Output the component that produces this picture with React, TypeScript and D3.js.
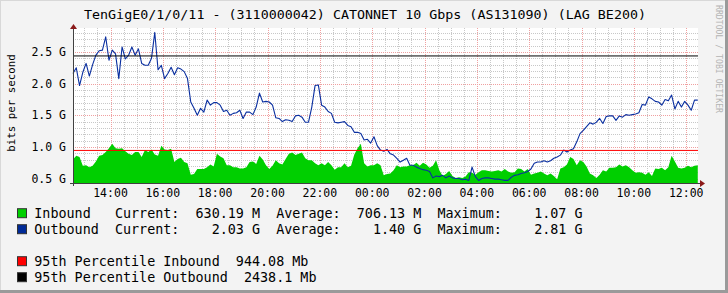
import React from "react";
import * as d3 from "d3";

const TITLE = "TenGigE0/1/0/11 - (3110000042) CATONNET 10 Gbps (AS131090) (LAG BE200)";
const Y_TITLE = "bits per second";
const WATERMARK = "RRDTOOL / TOBI OETIKER";

// samples every 7.5 minutes starting 12:34
const START = new Date(2024, 0, 1, 12, 34);
const END = new Date(2024, 0, 2, 12, 27);
const STEP_MIN = 7.5;

// Outbound (G bits/s)
const outbound = [
  2.16, 2.25, 1.97, 2.18, 2.32, 2.12, 2.30, 2.45, 2.52, 2.53,
  2.74, 2.37, 2.53, 2.47, 2.08, 2.58, 2.39, 2.45, 2.58, 2.45,
  2.55, 2.32, 2.29, 2.29, 2.40, 2.81, 2.22, 2.29, 2.08, 2.16,
  2.26, 2.14, 2.25, 2.23, 2.19, 2.08, 1.71, 1.61, 1.50, 1.61,
  1.55, 1.74, 1.66, 1.70, 1.70, 1.66, 1.56, 1.58, 1.50, 1.53,
  1.54, 1.58, 1.45, 1.55, 1.55, 1.51, 1.63, 1.85, 1.71, 1.72,
  1.71, 1.66, 1.46, 1.45, 1.40, 1.43, 1.42, 1.40, 1.49, 1.50,
  1.47, 1.39, 1.39, 1.63, 1.97, 1.98, 1.66, 1.63, 1.56, 1.53,
  1.39, 1.38, 1.39, 1.40, 1.34, 1.32, 1.23, 1.23, 1.21, 1.11,
  1.12, 1.06, 1.16, 1.02, 0.95, 0.93, 0.96, 0.89, 0.87, 0.82,
  0.76, 0.79, 0.82, 0.71, 0.71, 0.68, 0.66, 0.64, 0.63, 0.61,
  0.51, 0.54, 0.53, 0.55, 0.51, 0.54, 0.51, 0.50, 0.50, 0.48,
  0.49, 0.47, 0.68, 0.53, 0.47, 0.50, 0.51, 0.51, 0.50, 0.49,
  0.49, 0.48, 0.47, 0.47, 0.52, 0.55, 0.56, 0.58, 0.59, 0.61,
  0.65, 0.74, 0.76, 0.76, 0.78, 0.76, 0.78, 0.82, 0.84, 0.87,
  0.95, 0.92, 0.95, 0.97, 1.08, 1.21, 1.26, 1.32, 1.38, 1.36,
  1.39, 1.45, 1.37, 1.48, 1.49, 1.49, 1.42, 1.49, 1.47, 1.51,
  1.50, 1.51, 1.52, 1.54, 1.67, 1.66, 1.79, 1.76, 1.72, 1.71,
  1.66, 1.75, 1.73, 1.82, 1.60, 1.72, 1.63, 1.72, 1.66, 1.58,
  1.74, 1.74,
];

// Inbound (G bits/s)
const inbound = [
  0.80, 0.86, 0.84, 0.70, 0.71, 0.68, 0.70, 0.77, 0.86, 0.87,
  0.92, 0.98, 1.05, 0.98, 0.97, 0.98, 0.93, 0.89, 0.87, 0.92,
  0.92, 0.84, 0.95, 0.92, 0.96, 0.88, 0.86, 1.02, 0.96, 0.95,
  0.97, 0.76, 0.81, 0.83, 0.76, 0.74, 0.56, 0.57, 0.65, 0.65,
  0.65, 0.68, 0.72, 0.69, 0.89, 0.85, 0.82, 0.71, 0.71, 0.68,
  0.68, 0.66, 0.66, 0.68, 0.76, 0.77, 0.73, 0.86, 0.80, 0.71,
  0.65, 0.70, 0.79, 0.74, 0.72, 0.81, 0.89, 0.91, 0.87, 0.89,
  0.91, 0.82, 0.79, 0.79, 0.74, 0.71, 0.74, 0.71, 0.76, 0.71,
  0.64, 0.68, 0.68, 0.74, 0.68, 0.70, 0.88, 0.98, 1.05, 0.74,
  0.69, 0.71, 0.71, 0.74, 0.71, 0.55, 0.57, 0.58, 0.63, 0.71,
  0.68, 0.69, 0.69, 0.71, 0.71, 0.75, 0.70, 0.75, 0.72, 0.67,
  0.70, 0.79, 0.63, 0.54, 0.57, 0.62, 0.54, 0.51, 0.52, 0.51,
  0.53, 0.60, 0.59, 0.56, 0.60, 0.63, 0.63, 0.62, 0.61, 0.62,
  0.63, 0.61, 0.65, 0.61, 0.59, 0.60, 0.66, 0.65, 0.61, 0.65,
  0.56, 0.58, 0.59, 0.61, 0.58, 0.55, 0.58, 0.54, 0.49, 0.66,
  0.68, 0.72, 0.84, 0.81, 0.71, 0.79, 0.76, 0.69, 0.58, 0.55,
  0.51, 0.56, 0.63, 0.61, 0.67, 0.67, 0.68, 0.72, 0.69, 0.71,
  0.68, 0.63, 0.59, 0.60, 0.59, 0.56, 0.60, 0.54, 0.66, 0.65,
  0.67, 0.63, 0.68, 0.86, 0.77, 0.67, 0.66, 0.67, 0.70, 0.68,
  0.70, 0.71,
];

const pct95In = 0.94408;
const pct95Out = 2.4381;

const legendRows = [
  { color: "#00CF00", text: "Inbound   Current:  630.19 M  Average:  706.13 M  Maximum:    1.07 G" },
  { color: "#002A97", text: "Outbound  Current:    2.03 G  Average:    1.40 G  Maximum:    2.81 G" },
  { color: "#FF0000", text: "95th Percentile Inbound  944.08 Mb" },
  { color: "#000000", text: "95th Percentile Outbound  2438.1 Mb" },
];

const W = 728;
const H = 293;
const L = 73, R = 698, T = 28, B = 183;
const FONT = "'DejaVu Sans Mono', monospace";

export default function App() {
  const x = d3.scaleTime().domain([START, END]).range([L, R]);
  const y = d3.scaleLinear().domain([0.429, 2.88]).range([B, T]);
  const timeAt = (i: number) => new Date(START.getTime() + i * STEP_MIN * 60000);

  const inData = inbound.map((v, i) => ({ t: timeAt(i), v }));
  const outData = outbound.map((v, i) => ({ t: timeAt(i), v }));

  const area = d3.area<{ t: Date; v: number }>()
    .x((d) => x(d.t)).y0(B).y1((d) => y(d.v));
  const line = d3.line<{ t: Date; v: number }>()
    .x((d) => x(d.t)).y((d) => y(d.v));

  const minorY = d3.range(5, 29).map((k) => k / 10);
  const majorY = minorY.filter((v) => Math.abs(v * 2 - Math.round(v * 2)) < 1e-6);
  const minorX = d3.timeMinute.every(30)!.range(START, END);
  const majorX = d3.timeHour.every(2)!.range(START, END);
  const fmt = d3.timeFormat("%H:%M");

  return (
    <svg width={W} height={H} style={{ position: "absolute", left: 0, top: 0, display: "block" }}
      xmlns="http://www.w3.org/2000/svg">
      <rect x={0} y={0} width={W} height={H} fill="#F3F3F3" />
      {/* frame */}
      <line x1={0} y1={0.5} x2={W} y2={0.5} stroke="#D8D8D8" strokeWidth={1} />
      <line x1={0.5} y1={0} x2={0.5} y2={H} stroke="#D8D8D8" strokeWidth={1} />
      <line x1={W - 1.5} y1={0} x2={W - 1.5} y2={H} stroke="#9A9A9A" strokeWidth={3} />
      <line x1={0} y1={H - 1.5} x2={W} y2={H - 1.5} stroke="#9A9A9A" strokeWidth={3} />

      <text x={84} y={18.5} fontFamily={FONT} fontSize={13} fill="#000"
        textLength={562} lengthAdjust="spacingAndGlyphs" style={{ whiteSpace: "pre" }}>{TITLE}</text>

      <text transform="translate(716,5) rotate(90)" fontFamily={FONT} fontSize={8.3} fill="#B4B4B4"
        textLength={108} lengthAdjust="spacingAndGlyphs" style={{ whiteSpace: "pre" }}>{WATERMARK}</text>

      <text transform="translate(14.5,103) rotate(-90)" textAnchor="middle"
        fontFamily={FONT} fontSize={10.8} fill="#000">{Y_TITLE}</text>

      {/* plot background */}
      <rect x={L} y={T} width={R - L} height={B - T} fill="#FFFFFF" />

      {/* minor grid */}
      {minorY.filter((v) => !majorY.includes(v)).map((v) => (
        <line key={"my" + v} x1={L} x2={R} y1={Math.round(y(v)) + 0.5} y2={Math.round(y(v)) + 0.5}
          stroke="#C8C8C8" strokeDasharray="1,1" />
      ))}
      {minorX.map((t) => (
        <line key={"mx" + t.getTime()} x1={Math.round(x(t)) + 0.5} x2={Math.round(x(t)) + 0.5} y1={T} y2={B}
          stroke="#C8C8C8" strokeDasharray="1,1" />
      ))}
      {/* major grid */}
      {majorY.map((v) => (
        <line key={"My" + v} x1={L} x2={R} y1={Math.round(y(v)) + 0.5} y2={Math.round(y(v)) + 0.5}
          stroke="#F0A0A0" strokeDasharray="1,1" />
      ))}
      {majorX.map((t) => (
        <line key={"Mx" + t.getTime()} x1={Math.round(x(t)) + 0.5} x2={Math.round(x(t)) + 0.5} y1={T} y2={B}
          stroke="#F0A0A0" strokeDasharray="1,1" />
      ))}

      <path d={area(inData) || ""} fill="#00CF00" />
      <path d={line(outData) || ""} fill="none" stroke="#0A2FA0" strokeWidth={1.1} strokeLinejoin="round" />

      <line x1={L} x2={R} y1={y(pct95In)} y2={y(pct95In)} stroke="#FF0000" strokeWidth={1} />
      <line x1={L} x2={R} y1={y(pct95Out)} y2={y(pct95Out)} stroke="#000000" strokeWidth={1} />

      {/* axes */}
      <line x1={L - 3} x2={R + 2} y1={B + 0.5} y2={B + 0.5} stroke="#404040" />
      <line x1={L + 0.5} x2={L + 0.5} y1={B + 3} y2={T - 1} stroke="#404040" />
      <path d={`M${R + 2},${B - 3} L${R + 7},${B + 0.5} L${R + 2},${B + 4} Z`} fill="#8B1A1A" />
      <path d={`M${L - 3},${T + 1} L${L + 0.5},${T - 4} L${L + 4},${T + 1} Z`} fill="#8B1A1A" />

      {/* y labels */}
      {majorY.map((v) => (
        <text key={"yl" + v} x={66} y={y(v) + 4} textAnchor="end" fontFamily={FONT} fontSize={11.5}
          fill="#000" style={{ whiteSpace: "pre" }}>{`${v.toFixed(1)} G`}</text>
      ))}
      {/* x labels */}
      {majorX.map((t) => (
        <text key={"xl" + t.getTime()} x={x(t)} y={196.7} textAnchor="middle" fontFamily={FONT}
          fontSize={11.5} fill="#000">{fmt(t)}</text>
      ))}

      {/* legend */}
      {legendRows.map((r, i) => {
        const by = [217.7, 233.7, 265.7, 281.7][i];
        return (
          <g key={"lg" + i}>
            <rect x={17.5} y={by - 9} width={9} height={9} fill={r.color} stroke="#333" strokeWidth={1} />
            <text x={34.3} y={by} fontFamily={FONT} fontSize={13.4} fill="#000"
              style={{ whiteSpace: "pre" }}>{r.text}</text>
          </g>
        );
      })}
    </svg>
  );
}
